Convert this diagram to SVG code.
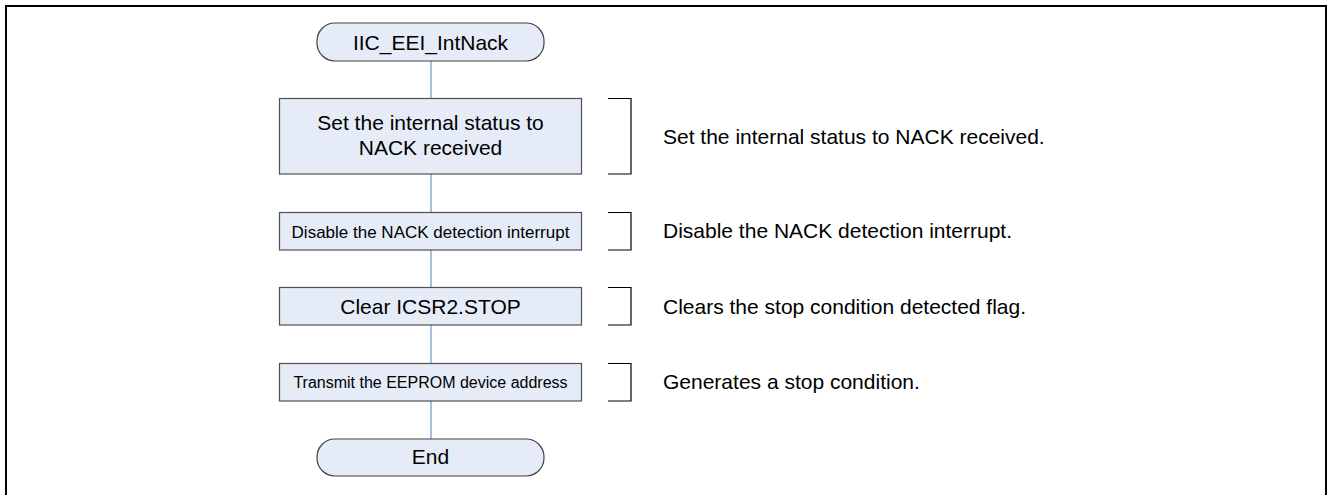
<svg xmlns="http://www.w3.org/2000/svg" width="1328" height="495" viewBox="0 0 1328 495">
<style>
.frame{fill:#ffffff;stroke:#000000;stroke-width:2}
.box{fill:#E6ECF7;stroke:#505050;stroke-width:1.2}
.term{fill:#E6ECF7;stroke:#404040;stroke-width:1.2}
.conn{stroke:#8EB0DA;stroke-width:1.6;fill:none}
.brk{stroke:#000000;stroke-width:1.2;fill:none}
text{font-family:"Liberation Sans",Arial,sans-serif;fill:#000000}
.c{text-anchor:middle}
</style>
<rect class="frame" x="6" y="6" width="1320" height="500"/>
<g id="connectors">
<line class="conn" x1="431" y1="61" x2="431" y2="98"/>
<line class="conn" x1="431" y1="174" x2="431" y2="212"/>
<line class="conn" x1="431" y1="250" x2="431" y2="287"/>
<line class="conn" x1="431" y1="325" x2="431" y2="363"/>
<line class="conn" x1="431" y1="401" x2="431" y2="439"/>
</g>
<g id="start">
<rect class="term" x="317" y="23" width="227" height="38" rx="18" ry="18"/>
<text class="c" x="430.5" y="49.5" font-size="21">IIC_EEI_IntNack</text>
</g>
<g id="step1">
<rect class="box" x="279.5" y="98.5" width="302" height="75.5"/>
<text class="c" x="430.5" y="130" font-size="21">Set the internal status to</text>
<text class="c" x="430.5" y="155" font-size="21">NACK received</text>
</g>
<g id="step2">
<rect class="box" x="279.5" y="212.5" width="302" height="37.5"/>
<text class="c" x="430.5" y="237.5" font-size="17">Disable the NACK detection interrupt</text>
</g>
<g id="step3">
<rect class="box" x="279.5" y="287.5" width="302" height="37.5"/>
<text class="c" x="430.5" y="313.5" font-size="21">Clear ICSR2.STOP</text>
</g>
<g id="step4">
<rect class="box" x="279.5" y="363.5" width="302" height="37.5"/>
<text class="c" x="430.5" y="387.5" font-size="16">Transmit the EEPROM device address</text>
</g>
<g id="end">
<rect class="term" x="317" y="439" width="227" height="37" rx="18" ry="18"/>
<text class="c" x="430.5" y="464" font-size="21">End</text>
</g>
<g id="notes">
<path class="brk" d="M608,98.5 H631 V174 H608"/>
<path class="brk" d="M608,212.5 H631 V250 H608"/>
<path class="brk" d="M608,287.5 H631 V325 H608"/>
<path class="brk" d="M608,363.5 H631 V401 H608"/>
<text x="663" y="143.5" font-size="21">Set the internal status to NACK received.</text>
<text x="663" y="238" font-size="21">Disable the NACK detection interrupt.</text>
<text x="663" y="313.5" font-size="21">Clears the stop condition detected flag.</text>
<text x="663" y="388.5" font-size="21">Generates a stop condition.</text>
</g>
</svg>
